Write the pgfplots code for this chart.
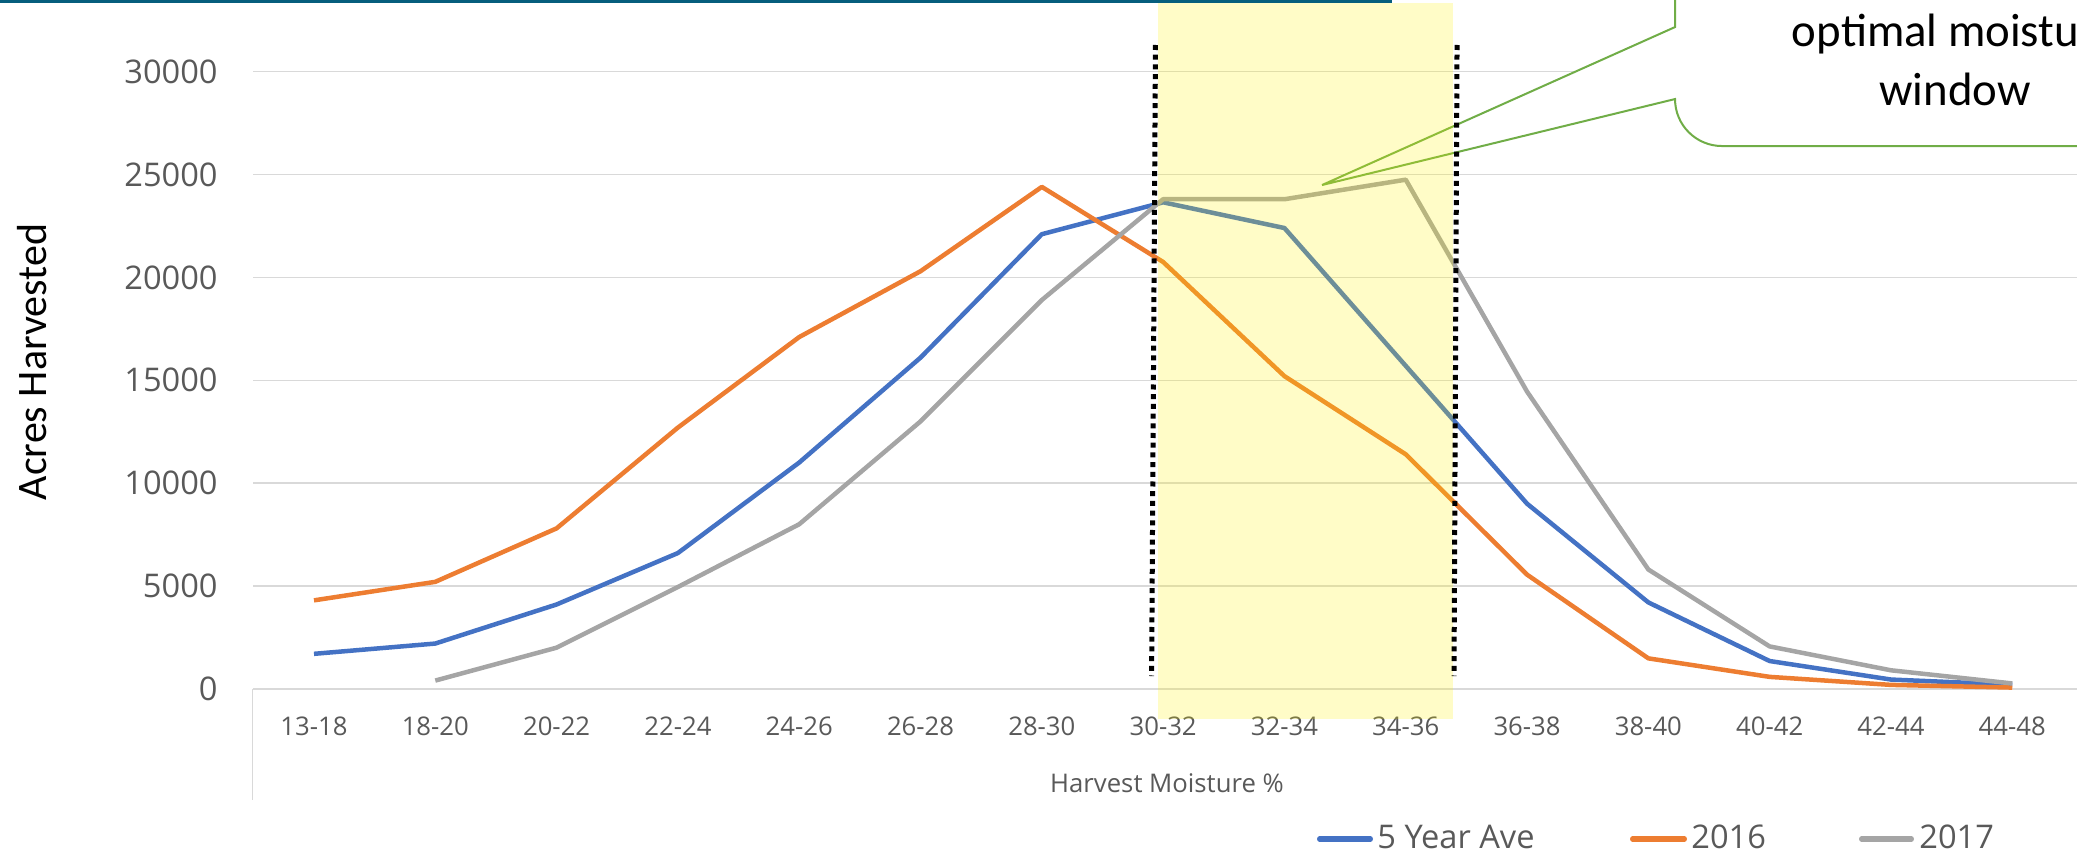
\documentclass[border=0pt]{standalone}
\usepackage{pgfplots}
\pgfplotsset{compat=1.18}
\usepackage{fontspec}
\setmainfont{Carlito}
\newfontfamily\opensans{Open Sans}
\definecolor{c5}{HTML}{4472C4}
\definecolor{c16}{HTML}{ED7D31}
\definecolor{c17}{HTML}{A5A5A5}
\definecolor{gridc}{HTML}{D9D9D9}
\definecolor{txt}{HTML}{595959}
\definecolor{band}{RGB}{6,94,125}
\definecolor{callg}{HTML}{70AD47}

\pgfplotstableread{
x y
0 1700
1 2200
2 4100
3 6600
4 11000
5 16100
6 22100
7 23650
8 22400
9 15700
10 9000
11 4200
12 1350
13 450
14 200
}\fiveyr
\pgfplotstableread{
x y
0 4300
1 5200
2 7800
3 12700
4 17100
5 20300
6 24400
7 20750
8 15200
9 11400
10 5550
11 1480
12 580
13 190
14 60
}\ysixteen
\pgfplotstableread{
x y
1 400
2 2000
3 4950
4 8000
5 13000
6 18900
7 23800
8 23800
9 24750
10 14450
11 5800
12 2060
13 900
14 260
}\yseventeen

\begin{document}
\begin{tikzpicture}[x=1bp,y=1bp]
\useasboundingbox (0,0) rectangle (1038.5,426.5);
\clip (0,0) rectangle (1038.5,426.5);
\begin{axis}[
  at={(126.675bp,82.1bp)}, anchor=south west,
  scale only axis, width=911.825bp, height=308.55bp,
  xmin=-0.5, xmax=14.534, ymin=0, ymax=30000,
  clip=false,
  axis line style={draw=none},
  tick style={draw=none}, major tick length=0pt,
  ymajorgrids, major grid style={gridc, line width=0.75bp},
  ytick={0,5000,10000,15000,20000,25000,30000},
  xtick={0,1,2,3,4,5,6,7,8,9,10,11,12,13,14},
  xticklabels={13-18,18-20,20-22,22-24,24-26,26-28,28-30,30-32,32-34,34-36,36-38,38-40,40-42,42-44,44-48},
  scaled y ticks=false,
  /pgf/number format/assume math mode=true,
  /pgf/number format/1000 sep={},
  yticklabel style={font=\opensans\fontsize{16.3bp}{18bp}\selectfont, text=txt, anchor=east, inner sep=0pt, xshift=-17.7bp},
  xticklabel style={font=\opensans\fontsize{12.85bp}{14bp}\selectfont, text=txt, anchor=base, inner sep=0pt, yshift=-23.1bp},
]
\addplot[c5, line width=2.25bp, line join=round] table[x=x,y=y] {\fiveyr};
\addplot[c16, line width=2.25bp, line join=round] table[x=x,y=y] {\ysixteen};
\addplot[c17, line width=2.25bp, line join=round] table[x=x,y=y] {\yseventeen};
% callout shape
\filldraw[fill=white, draw=callg, line width=1bp, line join=miter]
  (axis cs:11.220,33970) -- (axis cs:11.220,32170) -- (axis cs:8.310,24490)
  -- (axis cs:11.220,28670)
  .. controls (axis cs:11.220,27406) and (axis cs:11.393,26386) .. (axis cs:11.608,26386)
  -- (axis cs:14.641,26386) -- (axis cs:14.641,33970) -- cycle;
% optimal window highlight
\fill[yellow, fill opacity=0.22] (axis cs:6.955,33339) rectangle (axis cs:9.390,-1468);
\draw[black, line width=2.5bp, dash pattern=on 2.5bp off 2.35bp] (axis cs:6.937,31298) -- (axis cs:6.905,622);
\draw[black, line width=2.5bp, dash pattern=on 2.5bp off 2.35bp] (axis cs:9.423,31298) -- (axis cs:9.398,622);
\end{axis}
% top band
\fill[band] (0,424.8) rectangle (696,426.5);
% category axis box line
\draw[gridc, line width=0.75bp] (126.35,82.1) -- (126.35,26.5);
% axis titles
\node[anchor=base, inner sep=0pt, text=txt, font=\opensans\fontsize{12.85bp}{14bp}\selectfont] at (583.5,30.5) {Harvest Moisture \%};
\node[anchor=base, inner sep=0pt, rotate=90, font=\fontsize{21bp}{24bp}\selectfont] at (23.35,245.5) {Acres Harvested};
% callout text
\node[anchor=base, inner sep=0pt, font=\fontsize{23.4bp}{28bp}\selectfont] at (977.5,403.15) {optimal moisture};
\node[anchor=base, inner sep=0pt, font=\fontsize{23.4bp}{28bp}\selectfont] at (977.5,374) {window};
% legend
\draw[c5, line width=2.6bp, line cap=round] (659.8,7) -- (685.2,7);
\node[anchor=base west, inner sep=0pt, text=txt, font=\opensans\fontsize{16.3bp}{18bp}\selectfont] at (688.5,2.5) {5 Year Ave};
\draw[c16, line width=2.6bp, line cap=round] (816.3,7) -- (842.2,7);
\node[anchor=base west, inner sep=0pt, text=txt, font=\opensans\fontsize{16.3bp}{18bp}\selectfont] at (845.5,2.5) {2016};
\draw[c17, line width=2.6bp, line cap=round] (930.8,7) -- (955.7,7);
\node[anchor=base west, inner sep=0pt, text=txt, font=\opensans\fontsize{16.3bp}{18bp}\selectfont] at (959.5,2.5) {2017};
\end{tikzpicture}
\end{document}
